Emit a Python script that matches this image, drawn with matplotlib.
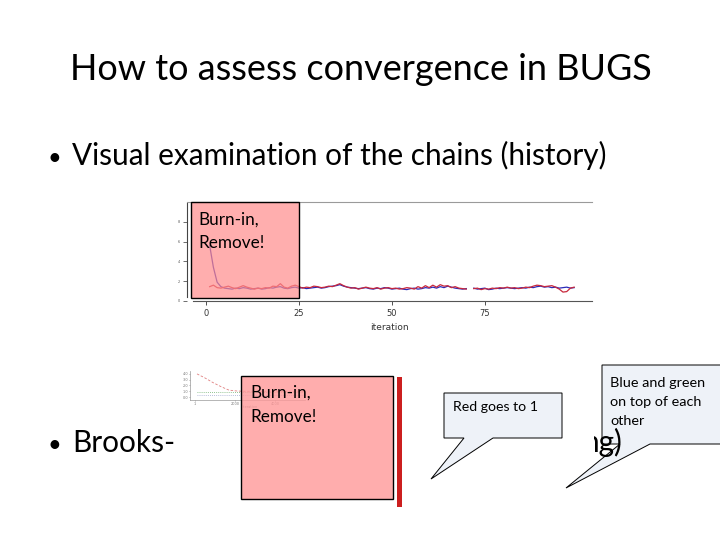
import matplotlib
matplotlib.use("Agg")
import matplotlib.pyplot as plt
from matplotlib.patches import Rectangle, Polygon
from matplotlib.transforms import Bbox, TransformedBbox

nan = float("nan")

# ---------------- data ----------------
title = "How to assess convergence in BUGS"
bullet1 = "Visual examination of the chains (history)"
bullet2_left = "Brooks-"
bullet2_right = "ng)"

iterations = list(range(1, 100))
chain_blue = [5.6, 3.4, 1.9, 1.45, 1.3, 1.25, 1.2, 1.3, 1.25, 1.35,
              1.3, 1.2, 1.25, 1.3, 1.2, 1.25, 1.35, 1.3, 1.4, 1.45,
              1.3, 1.25, 1.35, 1.4, 1.3, 1.35, 1.25, 1.3, 1.35, 1.4,
              1.3, 1.35, 1.45, 1.5, 1.55, 1.65, 1.5, 1.4, 1.35, 1.3,
              1.25, 1.3, 1.35, 1.25, 1.2, 1.3, 1.25, 1.35, 1.3, 1.2,
              1.25, 1.3, 1.2, 1.15, 1.25, 1.3, 1.2, 1.25, 1.35, 1.3,
              1.4, 1.3, 1.45, 1.35, 1.5, 1.4, 1.3, 1.25, 1.2, 1.25,
              nan, 1.3, 1.2, 1.25, 1.3, 1.15, 1.2, 1.3, 1.25, 1.3,
              1.35, 1.3, 1.25, 1.3, 1.35, 1.3, 1.4, 1.35, 1.45, 1.5,
              1.4, 1.45, 1.35, 1.4, 1.3, 1.35, 1.4, 1.3, 1.35]
chain_red = [1.45, 1.6, 1.35, 1.3, 1.4, 1.5, 1.35, 1.25, 1.4, 1.55,
             1.4, 1.3, 1.2, 1.3, 1.25, 1.35, 1.3, 1.5, 1.45, 1.75,
             1.4, 1.3, 1.5, 1.6, 1.45, 1.3, 1.4, 1.35, 1.5, 1.45,
             1.35, 1.4, 1.5, 1.45, 1.6, 1.75, 1.55, 1.4, 1.3, 1.35,
             1.2, 1.3, 1.4, 1.3, 1.25, 1.35, 1.2, 1.3, 1.35, 1.25,
             1.3, 1.2, 1.25, 1.35, 1.3, 1.2, 1.45, 1.3, 1.55, 1.35,
             1.6, 1.4, 1.65, 1.5, 1.55, 1.35, 1.45, 1.3, 1.25, 1.2,
             nan, 1.25, 1.3, 1.15, 1.25, 1.2, 1.3, 1.25, 1.35, 1.3,
             1.4, 1.3, 1.35, 1.25, 1.3, 1.4, 1.35, 1.5, 1.6, 1.55,
             1.45, 1.5, 1.55, 1.4, 1.2, 0.9, 0.95, 1.3, 1.4]
trace_xticks = [0, 25, 50, 75]
trace_yticks = [0, 2, 4, 6, 8]
burn_in = 25

bgr_iter = [101, 500, 900, 1300, 1700, 2100, 2500, 3000, 3500, 4000, 4500, 5000, 5500]
bgr_red = [4.0, 3.3, 2.5, 1.8, 1.2, 1.05, 1.0, 1.0, 1.0, 1.0, 1.0, 1.0, 1.0]
bgr_green = [0.95, 0.95, 0.95, 0.95, 0.95, 0.95, 0.95, 0.95, 0.95, 0.95, 0.95, 0.95, 0.95]
bgr_blue = [0.35, 0.35, 0.35, 0.35, 0.35, 0.35, 0.35, 0.35, 0.35, 0.35, 0.35, 0.35, 0.35]
bgr_xticks = [1, 2000, 4000]
bgr_yticks = [0.0, 1.0, 2.0, 3.0, 4.0]

burn_label = "Burn-in,\nRemove!"
callout1 = "Red goes to 1"
callout2 = ["Blue and green", "on top of each", "other"]

# ---------------- figure ----------------
W, H = 720, 540
FONT = "Lato"
fig = plt.figure(figsize=(7.2, 5.4), dpi=100)
fig.patch.set_facecolor("white")


def px_axes(x0, y0, x1, y1, **kw):
    return fig.add_axes([x0 / W, 1 - y1 / H, (x1 - x0) / W, (y1 - y0) / H], **kw)


renderer = fig.canvas.get_renderer()


def fit_size(s, width, base=20):
    t = fig.text(0, 0, s, fontsize=base, family=FONT)
    w = t.get_window_extent(renderer=renderer).width
    t.remove()
    return base * width / w


# ---- trace plot ----
tr = px_axes(187, 202, 592, 301, zorder=1)
tr.plot(iterations, chain_blue, color="#2a2ab8", lw=0.9, zorder=2)
tr.plot(iterations, chain_red, color="#c8283c", lw=0.9, zorder=2)
tr.set_xlim(-5.1, 103.8)
tr.set_ylim(0, 10)
tr.set_xticks(trace_xticks)
tr.set_xticklabels([str(v) for v in trace_xticks])
tr.set_yticks(trace_yticks)
tr.set_yticklabels([str(v) for v in trace_yticks])
tr.tick_params(axis="x", labelsize=6, colors="#333333", length=3, width=0.6, pad=3)
tr.tick_params(axis="y", labelsize=2.5, colors="#555555", length=3, width=0.6, pad=2)
tr.spines["right"].set_visible(False)
tr.spines["top"].set_color("#9a9a9a")
tr.spines["top"].set_linewidth(0.8)
tr.spines["bottom"].set_color("#555555")
tr.spines["bottom"].set_linewidth(0.8)
tr.spines["bottom"].set_bounds(-3.5, 103.8)
tr.spines["left"].set_color("#444444")
tr.spines["left"].set_linewidth(0.8)
tr.spines["left"].set_bounds(0.4, 9.9)
tr.set_xlabel("iteration", fontsize=6.5, color="#333333", labelpad=3)
tr.add_patch(Rectangle((-4.0, 0.3), burn_in + 4.0, 9.7,
                       facecolor=(1, 0.55, 0.55, 0.7), edgecolor="black",
                       lw=1.0, zorder=3, clip_on=False))

# ---- small BGR plot ----
bg = px_axes(190, 371, 305, 400, zorder=5)
bg.plot(bgr_iter, bgr_red, color="#e08080", lw=0.6, ls=(0, (3, 2)))
bg.plot(bgr_iter, bgr_green, color="#70b070", lw=0.6, ls=(0, (1, 1.5)))
bg.plot(bgr_iter, bgr_blue, color="#a0a8d0", lw=0.6, ls=(0, (1, 1.5)))
bg.set_xlim(-250, 5500)
bg.set_ylim(-0.5, 4.5)
bg.set_xticks(bgr_xticks)
bg.set_xticklabels([str(v) for v in bgr_xticks])
bg.set_yticks(bgr_yticks)
bg.set_yticklabels(["%.1f" % v for v in bgr_yticks])
bg.tick_params(labelsize=2.5, colors="#777777", length=1, width=0.4, pad=0.5)
for s in ["top", "right"]:
    bg.spines[s].set_visible(False)
for s in ["left", "bottom"]:
    bg.spines[s].set_color("#999999")
    bg.spines[s].set_linewidth(0.5)
bg.set_xlabel("iteration", fontsize=2.5, color="#777777", labelpad=0.3)
bg.xaxis.set_label_coords(0.52, -0.16)

# ---- overlay (slide) ----
ov = fig.add_axes([0, 0, 1, 1], zorder=10)
ov.set_xlim(0, W)
ov.set_ylim(H, 0)
ov.axis("off")

ts = fit_size(title, 581)
ov.text(360.5, 80, title, fontsize=ts, family=FONT, ha="center", va="baseline", color="black")

bs = fit_size(bullet1, 535)
ov.text(47, 165, "\u2022", fontsize=bs * 0.8, family=FONT, ha="left", va="baseline")
ov.text(72, 165, bullet1, fontsize=bs, family=FONT, ha="left", va="baseline")
ov.text(47, 452, "\u2022", fontsize=bs * 0.8, family=FONT, ha="left", va="baseline")
ov.text(72, 452, bullet2_left, fontsize=bs, family=FONT, ha="left", va="baseline")

# burn-in label in the trace plot
rs = fit_size("Remove!", 66)
l1, l2 = burn_label.split("\n")
ov.text(198, 225, l1, fontsize=rs, family=FONT, ha="left", va="baseline", zorder=6)
ov.text(198, 248, l2, fontsize=rs, family=FONT, ha="left", va="baseline", zorder=6)

# bottom burn-in box and red bar
ov.add_patch(Rectangle((241, 376), 152, 123, facecolor=(1, 0.6, 0.6, 0.8),
                       edgecolor="black", lw=1.0, zorder=2))
ov.text(250, 398, l1, fontsize=rs, family=FONT, ha="left", va="baseline", zorder=6)
ov.text(250, 422, l2, fontsize=rs, family=FONT, ha="left", va="baseline", zorder=6)
ov.add_patch(Rectangle((397, 377), 4.5, 130, facecolor="#cc1f1f", edgecolor="none", zorder=2))

# callouts
fill = "#eef2f8"
ov.add_patch(Polygon([(444, 393), (562, 393), (562, 438), (493, 438), (431, 479),
                      (464, 438), (444, 438)], closed=True, facecolor=fill,
                     edgecolor="black", lw=0.7, zorder=3))
cs = fit_size(callout1, 85)
ov.text(453, 411, callout1, fontsize=cs, family=FONT, ha="left", va="baseline", zorder=4)

ov.add_patch(Polygon([(602, 365), (724, 365), (724, 444), (650, 444), (566, 488),
                      (620, 444), (602, 444)], closed=True, facecolor=fill,
                     edgecolor="black", lw=0.7, zorder=3, clip_on=False))
cs2 = fit_size(callout2[0], 95)
for i, line in enumerate(callout2):
    ov.text(610, 387 + 19 * i, line, fontsize=cs2, family=FONT, ha="left", va="baseline", zorder=4)

tail = ov.text(623, 452, bullet2_right, fontsize=bs, family=FONT, ha="right", va="baseline", zorder=5)
tail.set_clip_box(TransformedBbox(Bbox([[594, 400], [700, 480]]), ov.transData))
tail.set_clip_on(True)

fig.savefig("out.png", dpi=100, facecolor="white")
